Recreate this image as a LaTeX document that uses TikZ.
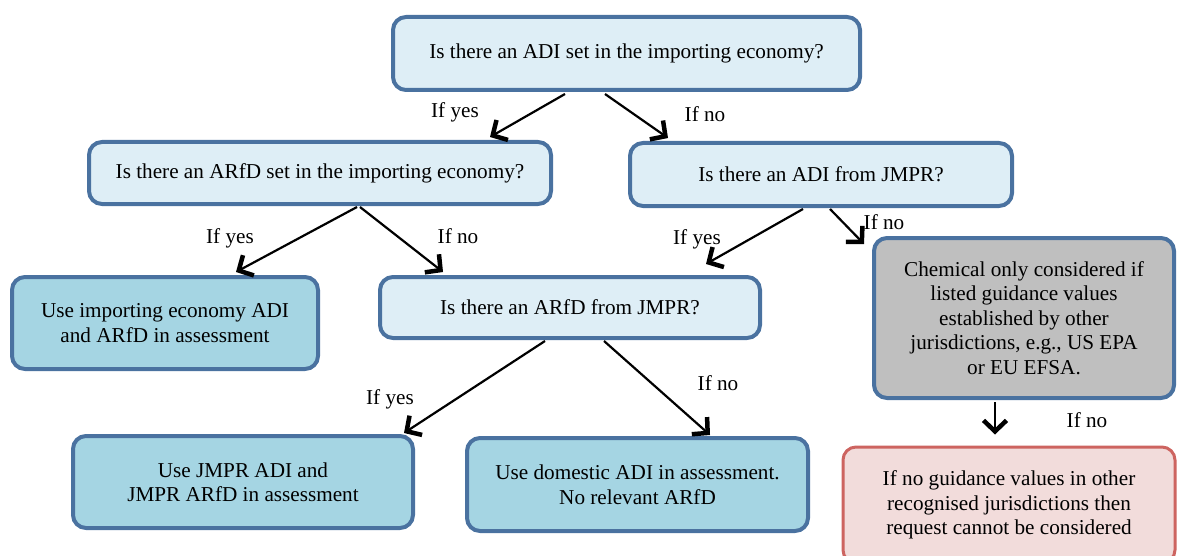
\documentclass[tikz,border=0pt]{standalone}
\usepackage{fontspec}
\setmainfont{Liberation Serif}
\usetikzlibrary{arrows.meta}
\definecolor{bordblue}{RGB}{74,114,160}
\definecolor{lightfill}{RGB}{222,238,246}
\definecolor{midfill}{RGB}{165,213,227}
\definecolor{grayfill}{RGB}{191,191,191}
\definecolor{redfill}{RGB}{242,220,219}
\definecolor{redbord}{RGB}{205,100,96}
\tikzset{
  x=1pt, y=-1pt,
  box/.style={draw=bordblue, line width=4pt, rounded corners=13pt, align=center,
    font=\fontsize{21.2}{24.5}\selectfont, inner sep=0pt, anchor=center},
  qbox/.style={box, fill=lightfill},
  abox/.style={box, fill=midfill},
  gbox/.style={box, fill=grayfill},
  rbox/.style={box, draw=redbord, line width=3pt, fill=redfill},
  lbl/.style={font=\fontsize{21.2}{24.5}\selectfont, inner sep=0pt},
  arr/.style={line width=2.2pt, -{Straight Barb[length=11pt,width=23pt,line width=4.5pt]}},
}
\begin{document}
\begin{tikzpicture}
\useasboundingbox (0,0) rectangle (1177,556);
\node[qbox, minimum width=467pt, minimum height=73pt] (top) at (626.5,53.5) {\raisebox{-3pt}{Is there an ADI set in the importing economy?}};
\node[qbox, minimum width=462pt, minimum height=62pt] (arfdimp) at (320,173) {Is there an ARfD set in the importing economy?};
\node[qbox, minimum width=382pt, minimum height=63pt] (adijmpr) at (821,174.5) {Is there an ADI from JMPR?};
\node[abox, minimum width=306pt, minimum height=92pt] (useimp) at (165,323) {Use importing economy ADI\\and ARfD in assessment};
\node[qbox, minimum width=380pt, minimum height=61pt] (arfdjmpr) at (570,307.5) {Is there an ARfD from JMPR?};
\node[gbox, minimum width=300pt, minimum height=160pt] (gray) at (1024,318) {Chemical only considered if\\listed guidance values\\established by other\\jurisdictions, e.g., US EPA\\or EU EFSA.};
\node[abox, minimum width=340pt, minimum height=92pt] (usejmpr) at (243,482) {Use JMPR ADI and\\JMPR ARfD in assessment};
\node[abox, minimum width=341pt, minimum height=93pt] (domestic) at (637.5,484.5) {Use domestic ADI in assessment.\\No relevant ARfD};
\node[rbox, minimum width=332pt, minimum height=116pt] (red) at (1009,505) {If no guidance values in other\\recognised jurisdictions then\\request cannot be considered};

\draw[arr] ([xshift=-61.5pt,yshift=-2pt]top.south) -- ([xshift=170pt,yshift=3pt]arfdimp.north);
\draw[arr] ([xshift=-21.5pt,yshift=-2pt]top.south) -- ([xshift=-153pt,yshift=3pt]adijmpr.north);
\draw[arr] ([xshift=37pt,yshift=-1pt]arfdimp.south) -- ([xshift=71pt,yshift=3pt]useimp.north);
\draw[arr] ([xshift=40pt,yshift=-1pt]arfdimp.south) -- ([xshift=-127pt,yshift=3pt]arfdjmpr.north);
\draw[arr] ([xshift=-18pt,yshift=-1pt]adijmpr.south) -- ([xshift=136pt,yshift=11pt]arfdjmpr.north);
\draw[arr] ([xshift=9pt,yshift=-1pt]adijmpr.south) -- ([xshift=-8pt,yshift=-8pt]gray.north west);
\draw[arr] ([xshift=-25pt,yshift=-1pt]arfdjmpr.south) -- ([xshift=161pt,yshift=1pt]usejmpr.north);
\draw[arr] ([xshift=34pt,yshift=-1pt]arfdjmpr.south) -- ([xshift=72.5pt,yshift=1pt]domestic.north);
\draw[arr] ([xshift=-29pt,yshift=-2pt]gray.south) -- ([xshift=-14pt,yshift=11pt]red.north);

\node[lbl] (l1) at (455,112) {If yes};
\node[lbl] (l2) at (705,114) {If no};
\node[lbl] (l3) at (230,238) {If yes};
\node[lbl] (l4) at (458,236) {If no};
\node[lbl] (l5) at (697,239) {If yes};
\node[lbl] (l6) at (884,222) {If no};
\node[lbl] (l7) at (390,399) {If yes};
\node[lbl] (l8) at (718,383) {If no};
\node[lbl] (l9) at (1087,420) {If no};
\end{tikzpicture}
\end{document}
